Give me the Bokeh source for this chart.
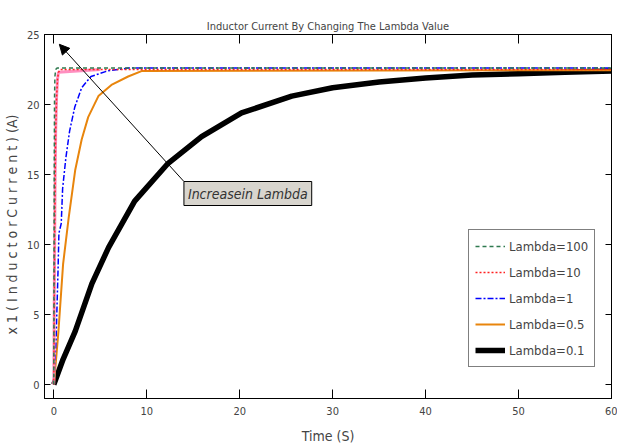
from bokeh.plotting import figure
from bokeh.models import Range1d, LinearAxis, Legend, LegendItem, Arrow, NormalHead, Label, FixedTicker, CustomJSTickFormatter
from bokeh.embed import file_html
from bokeh.resources import INLINE

FONT = "'DejaVu Sans Condensed', 'Liberation Sans', sans-serif"

title_text = "Inductor Current By Changing The Lambda Value"
x_label = "Time (S)"
y_label = "x 1  ( I n d u c t o r   C u r r e n t )  (A)"
x_ticks = [0, 10, 20, 30, 40, 50, 60]
y_ticks = [0, 5, 10, 15, 20, 25]

# Lambda = 100
t_100 = [0, 0.02, 0.05, 0.08, 0.12, 0.2, 0.35, 60]
y_100 = [0, 8.0, 16.0, 20.5, 22.0, 22.5, 22.6, 22.6]
# Lambda = 10
t_10 = [0, 0.05, 0.1, 0.15, 0.2, 0.3, 0.4, 0.5, 0.7, 60]
y_10 = [0, 6.0, 11.0, 15.0, 18.0, 20.5, 21.8, 22.3, 22.5, 22.5]
# Lambda = 1
t_1 = [0, 0.25, 0.45, 0.55, 0.8, 0.95, 1.3, 1.7, 2.25, 3.0, 4.0, 5.8, 8.0, 60]
y_1 = [0, 3.3, 8.0, 10.8, 11.5, 14.0, 16.2, 18.1, 19.8, 21.2, 22.0, 22.4, 22.6, 22.6]
# Lambda = 0.5
t_05 = [0, 0.05, 0.5, 1.0, 1.6, 2.3, 3.0, 3.7, 4.8, 6.2, 8.0, 9.5, 60]
y_05 = [0, 0.3, 3.8, 8.6, 11.9, 15.3, 17.5, 19.1, 20.6, 21.4, 22.0, 22.4, 22.45]
# Lambda = 0.1
t_01 = [0, 1, 2.3, 4.1, 5.9, 8.7, 12.3, 15.9, 20.2, 25.6, 30, 35, 40, 45, 50, 55, 60]
y_01 = [0, 1.8, 3.8, 7.2, 9.8, 13.1, 15.8, 17.7, 19.4, 20.6, 21.2, 21.6, 21.9, 22.1, 22.2, 22.3, 22.4]

legend_labels = ["Lambda=100", "Lambda=10", "Lambda=1", "Lambda=0.5", "Lambda=0.1"]

note_text = "Increasein Lambda"
arrow_tail = (14.0, 14.5)
arrow_head = (0.6, 24.3)

p = figure(width=617, height=446, x_range=Range1d(-1, 60), y_range=Range1d(-1, 25),
           output_backend="svg", toolbar_location=None,
           min_border_left=43, min_border_right=6, min_border_top=34, min_border_bottom=48)
p.background_fill_color = "white"
p.border_fill_color = "white"
p.outline_line_color = "black"
p.outline_line_width = 1
p.xgrid.visible = False
p.ygrid.visible = False

p.title.text = title_text
p.title.align = "center"
p.title.text_font = FONT
p.title.text_font_size = "11px"
p.title.text_font_style = "normal"
p.title.standoff = 4

for ax in p.xaxis:
    ax.ticker = FixedTicker(ticks=x_ticks)
    ax.major_tick_in = 9
    ax.major_tick_out = 0
    ax.minor_tick_line_color = None
    ax.major_label_text_font = FONT
    ax.major_label_text_font_size = "11px"
    ax.major_label_standoff = 8
    ax.axis_label = x_label
    ax.axis_label_text_font = FONT
    ax.axis_label_text_font_size = "14px"
    ax.axis_label_text_font_style = "normal"
    ax.axis_label_standoff = 10
for ax in p.yaxis:
    ax.ticker = FixedTicker(ticks=y_ticks)
    ax.major_tick_in = 6
    ax.major_tick_out = 0
    ax.minor_tick_line_color = None
    ax.major_label_text_font = FONT
    ax.major_label_text_font_size = "11px"
    ax.major_label_standoff = 5
    ax.axis_label = y_label
    ax.axis_label_text_font = FONT
    ax.axis_label_text_font_size = "14px"
    ax.axis_label_text_font_style = "normal"
    ax.axis_label_standoff = 4

blank = CustomJSTickFormatter(code="return ''")
top_ax = LinearAxis(ticker=FixedTicker(ticks=x_ticks), major_tick_in=9, major_tick_out=0,
                    minor_tick_line_color=None, formatter=blank, major_label_standoff=0)
right_ax = LinearAxis(ticker=FixedTicker(ticks=y_ticks), major_tick_in=6, major_tick_out=0,
                      minor_tick_line_color=None, formatter=blank, major_label_standoff=0)
p.add_layout(top_ax, "above")
p.add_layout(right_ax, "right")

r01 = p.line(t_01, y_01, line_color="black", line_width=5.5)
r05 = p.line(t_05, y_05, line_color="#e8850c", line_width=2)
r1 = p.line(t_1, y_1, line_color="#0000ff", line_width=1.5, line_dash="6 2 2 2")
pink_n = 8
p.line(t_10[:pink_n] + [5.0], y_10[:pink_n] + [22.5], line_color="#ff8fc0", line_width=3)
r10 = p.line(t_10, y_10, line_color="#ff2020", line_width=1.5, line_dash="2 2")
r100 = p.line(t_100, y_100, line_color="#2f7a4f", line_width=1.5, line_dash="4 3")

legend = Legend(items=[
    LegendItem(label=legend_labels[0], renderers=[r100]),
    LegendItem(label=legend_labels[1], renderers=[r10]),
    LegendItem(label=legend_labels[2], renderers=[r1]),
    LegendItem(label=legend_labels[3], renderers=[r05]),
    LegendItem(label=legend_labels[4], renderers=[r01]),
], location=(424, 31))
legend.margin = 0
legend.padding = 6
legend.spacing = 6
legend.glyph_width = 30
legend.glyph_height = 20
legend.label_height = 20
legend.label_standoff = 4
legend.label_text_font = FONT
legend.label_text_font_size = "13px"
legend.border_line_color = "black"
legend.border_line_width = 1
legend.background_fill_color = "white"
legend.background_fill_alpha = 1
p.add_layout(legend)

p.add_layout(Arrow(end=NormalHead(size=10, fill_color="black", line_color="black"),
                   x_start=arrow_tail[0], y_start=arrow_tail[1],
                   x_end=arrow_head[0], y_end=arrow_head[1],
                   line_color="black", line_width=1))

p.add_layout(Label(x=arrow_tail[0], y=arrow_tail[1], text=note_text,
                   text_font=FONT, text_font_size="14px", text_font_style="italic",
                   text_color="#333333", text_baseline="top", text_align="left",
                   background_fill_color="#d8d5ce", border_line_color="black",
                   border_line_width=1, padding=4))

open("out.html", "w").write(file_html(p, INLINE))
